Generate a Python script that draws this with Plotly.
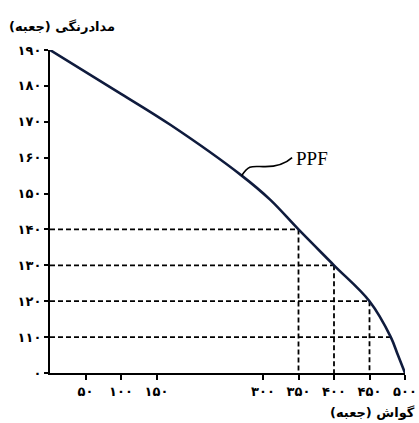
import plotly.graph_objects as go

# PPF data (gouache boxes on x, colored-pencil boxes on y)
gouache = [0, 100, 170, 270, 310, 350, 400, 450, 480, 490, 500]
pencils = [190, 177.8, 169.1, 155, 148.3, 140, 130, 120, 110, 55, 0]

# highlighted points with dashed guides
guide_x = [350, 400, 450, 480]
guide_y = [140, 130, 120, 110]
guide_vertical = [True, True, True, False]

y_tick_vals = [0, 110, 120, 130, 140, 150, 160, 170, 180, 190]
y_tick_text = ["۰", "۱۱۰", "۱۲۰", "۱۳۰", "۱۴۰", "۱۵۰", "۱۶۰", "۱۷۰", "۱۸۰", "۱۹۰"]
x_tick_vals = [50, 100, 150, 300, 350, 400, 450, 500]
x_tick_text = ["۵۰", "۱۰۰", "۱۵۰", "۳۰۰", "۳۵۰", "۴۰۰", "۴۵۰", "۵۰۰"]

BREAK = 110  # axis is broken between 0 and 110


def ymap(v):
    """Broken y axis: values below 110 are squeezed into one tick step."""
    return v if v >= BREAK else 100 + v / BREAK * 10


fig = go.Figure()

# dashed guides
for gx, gy, gv in zip(guide_x, guide_y, guide_vertical):
    fig.add_trace(go.Scatter(x=[0, gx], y=[ymap(gy), ymap(gy)], mode="lines",
                             line=dict(color="black", width=1.8, dash="5px,3px"),
                             hoverinfo="skip", showlegend=False, cliponaxis=False))
    if gv:
        fig.add_trace(go.Scatter(x=[gx, gx], y=[ymap(gy), ymap(0)], mode="lines",
                                 line=dict(color="black", width=1.8, dash="5px,3px"),
                                 hoverinfo="skip", showlegend=False, cliponaxis=False))

# PPF curve
fig.add_trace(go.Scatter(x=gouache, y=[ymap(v) for v in pencils], mode="lines",
                         line=dict(color="#0f1b3d", width=2.6, shape="spline", smoothing=1.0),
                         showlegend=False, cliponaxis=False))

# pointer from curve to PPF label
fig.add_shape(type="path", xref="x", yref="y",
              path="M 270,155 C 280,158 284,157.6 300,157.5 S 330,158 341,160",
              line=dict(color="black", width=1.6))

fig.add_annotation(x=343, y=159.8, xref="x", yref="y", text="PPF", showarrow=False,
                   xanchor="left", yanchor="middle",
                   font=dict(family="Liberation Serif", size=19, color="black"))

fig.add_annotation(x=0.189, y=1.074, xref="paper", yref="paper",
                   text="<b>مدادرنگی (جعبه)</b>", showarrow=False,
                   xanchor="right", yanchor="middle",
                   font=dict(family="DejaVu Sans", size=13, color="black"))
fig.add_annotation(x=1.034, y=-0.121, xref="paper", yref="paper",
                   text="<b>گواش (جعبه)</b>", showarrow=False,
                   xanchor="right", yanchor="middle",
                   font=dict(family="DejaVu Sans", size=13, color="black"))

fig.update_xaxes(range=[0, 500], tickvals=x_tick_vals, ticktext=x_tick_text,
                 showline=True, linecolor="black", linewidth=2, automargin=False,
                 ticks="outside", ticklen=5, tickwidth=1.5, tickcolor="black",
                 showgrid=False, zeroline=False,
                 tickfont=dict(family="DejaVu Sans", size=13, color="black", weight="bold"))
fig.update_yaxes(range=[100, 190], tickvals=[ymap(v) for v in y_tick_vals], ticktext=y_tick_text,
                 showline=True, linecolor="black", linewidth=2, automargin=False,
                 ticks="outside", ticklen=4, tickwidth=1.5, tickcolor="black",
                 showgrid=False, zeroline=False,
                 tickfont=dict(family="DejaVu Sans", size=13, color="black", weight="bold"))

fig.update_layout(width=419, height=423, autosize=False,
                  margin=dict(l=50, r=14, t=50, b=50),
                  paper_bgcolor="white", plot_bgcolor="white", showlegend=False)

fig.write_html("out.html",
               config={"displayModeBar": False, "responsive": False},
               post_script="document.body.style.margin='0';document.body.style.overflow='hidden';")
